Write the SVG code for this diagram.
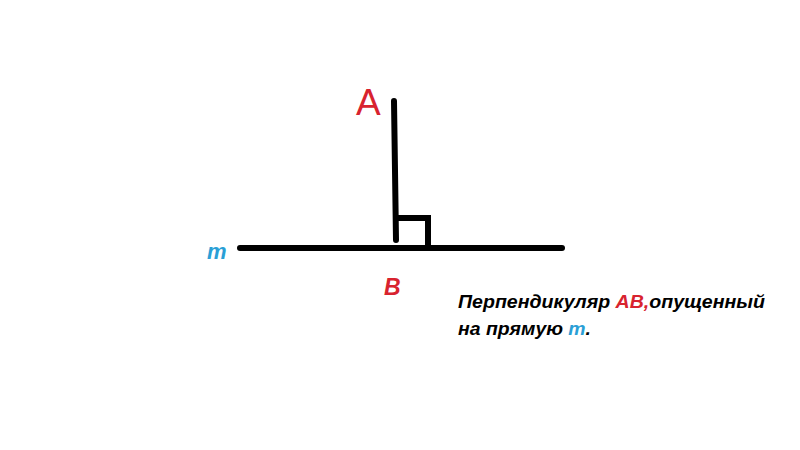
<svg xmlns="http://www.w3.org/2000/svg" width="800" height="450" viewBox="0 0 800 450">
<style>
.ln{stroke:#000;stroke-width:6;stroke-linecap:round;fill:none}
.red{fill:#d8232f}
.blue{fill:#2a9fd6}
.t{font-family:"Liberation Sans",Arial,sans-serif;font-weight:bold;font-style:italic}
</style>
<rect width="800" height="450" fill="#fff"/>
<g id="lines">
<path class="ln" d="M240 248 L562 248"/>
<path class="ln" d="M394 101 L396 240"/>
<path class="ln" d="M397 218 L428 218 L428 245" stroke-linecap="butt"/>
</g>
<g id="labels">
<text class="red" x="356" y="115" font-family="Liberation Sans,Arial,sans-serif" font-size="37">A</text>
<text class="t red" x="384" y="295" font-size="23">B</text>
<text class="t blue" x="207" y="259" font-size="22">m</text>
<text class="t" x="458" y="308" font-size="19" textLength="307" lengthAdjust="spacingAndGlyphs">Перпендикуляр <tspan class="red">АВ,</tspan>опущенный</text>
<text class="t" x="458" y="335" font-size="19" textLength="133" lengthAdjust="spacingAndGlyphs">на прямую <tspan class="blue">m</tspan>.</text>
</g>
</svg>
